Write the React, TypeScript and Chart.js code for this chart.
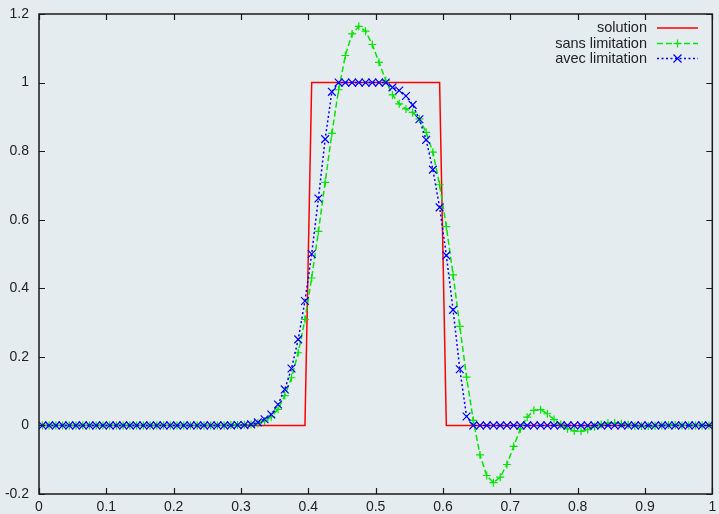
import React, { useEffect, useRef } from "react";
import { Chart, registerables } from "chart.js";

Chart.register(...registerables);

const xValues = [
  0.005, 0.015, 0.025, 0.035, 0.045, 0.055, 0.065, 0.075, 0.085, 0.095,
  0.105, 0.115, 0.125, 0.135, 0.145, 0.155, 0.165, 0.175, 0.185, 0.195,
  0.205, 0.215, 0.225, 0.235, 0.245, 0.255, 0.265, 0.275, 0.285, 0.295,
  0.305, 0.315, 0.325, 0.335, 0.345, 0.355, 0.365, 0.375, 0.385, 0.395,
  0.405, 0.415, 0.425, 0.435, 0.445, 0.455, 0.465, 0.475, 0.485, 0.495,
  0.505, 0.515, 0.525, 0.535, 0.545, 0.555, 0.565, 0.575, 0.585, 0.595,
  0.605, 0.615, 0.625, 0.635, 0.645, 0.655, 0.665, 0.675, 0.685, 0.695,
  0.705, 0.715, 0.725, 0.735, 0.745, 0.755, 0.765, 0.775, 0.785, 0.795,
  0.805, 0.815, 0.825, 0.835, 0.845, 0.855, 0.865, 0.875, 0.885, 0.895,
  0.905, 0.915, 0.925, 0.935, 0.945, 0.955, 0.965, 0.975, 0.985, 0.995,
];

const solution = [
  0, 0, 0, 0, 0, 0, 0, 0, 0, 0,
  0, 0, 0, 0, 0, 0, 0, 0, 0, 0,
  0, 0, 0, 0, 0, 0, 0, 0, 0, 0,
  0, 0, 0, 0, 0, 0, 0, 0, 0, 0,
  1, 1, 1, 1, 1, 1, 1, 1, 1, 1,
  1, 1, 1, 1, 1, 1, 1, 1, 1, 1,
  0, 0, 0, 0, 0, 0, 0, 0, 0, 0,
  0, 0, 0, 0, 0, 0, 0, 0, 0, 0,
  0, 0, 0, 0, 0, 0, 0, 0, 0, 0,
  0, 0, 0, 0, 0, 0, 0, 0, 0, 0,
];

const sansLimitation = [
  0, 0, 0, 0, 0, 0, 0, 0, 0, 0,
  0, 0, 0, 0, 0, 0, 0, 0, 0, 0,
  0, 0, 0, 0, 0, 0, 0, 0, 0.001, 0.001,
  0.002, 0.003, 0.006, 0.013, 0.025, 0.047, 0.087, 0.139, 0.212, 0.309,
  0.43, 0.566, 0.709, 0.852, 0.979, 1.079, 1.142, 1.164, 1.15, 1.111,
  1.059, 1.006, 0.964, 0.938, 0.923, 0.913, 0.894, 0.855, 0.797, 0.702,
  0.58, 0.439, 0.289, 0.141, 0.015, -0.086, -0.146, -0.167, -0.151, -0.114,
  -0.061, -0.01, 0.024, 0.044, 0.046, 0.034, 0.017, 0.003, -0.01, -0.016,
  -0.017, -0.012, -0.004, 0.003, 0.007, 0.007, 0.005, 0.002, -0.001, -0.002,
  -0.002, -0.001, 0, 0.001, 0.001, 0, 0, 0, 0, 0,
];

const avecLimitation = [
  0, 0, 0, 0, 0, 0, 0, 0, 0, 0,
  0, 0, 0, 0, 0, 0, 0, 0, 0, 0,
  0, 0, 0, 0, 0, 0, 0, 0, 0, 0.001,
  0.001, 0.003, 0.009, 0.018, 0.032, 0.061, 0.105, 0.166, 0.251, 0.363,
  0.5, 0.662, 0.835, 0.973, 1, 1, 1, 1, 1, 1,
  1, 1, 0.986, 0.977, 0.961, 0.935, 0.893, 0.833, 0.746, 0.636,
  0.496, 0.337, 0.164, 0.026, 0, 0, 0, 0, 0, 0,
  0, 0, 0, 0, 0, 0, 0, 0, 0, 0,
  0, 0, 0, 0, 0, 0, 0, 0, 0, 0,
  0, 0, 0, 0, 0, 0, 0, 0, 0, 0,
];

const legendLabels = ["solution", "sans limitation", "avec limitation"];

const BG = "#e5ecef";
const RED = "#ff0000";
const GREEN = "#00e600";
const BLUE = "#0000ff";
const FONT = "'Liberation Sans', Arial, Helvetica, sans-serif";

const toPoints = (ys: number[]) => ys.map((y, i) => ({ x: xValues[i], y }));

const fmt = (v: number) => {
  const r = Math.round(v * 10) / 10;
  return r === 0 ? "0" : String(r);
};

const bgPlugin = {
  id: "bgPlugin",
  beforeDraw(chart: any) {
    const ctx = chart.ctx;
    ctx.save();
    ctx.fillStyle = BG;
    ctx.fillRect(0, 0, chart.width, chart.height);
    ctx.restore();
  },
};

const framePlugin = {
  id: "framePlugin",
  afterDraw(chart: any) {
    const ctx = chart.ctx;
    const { left, right, top, bottom } = chart.chartArea;
    const xs = chart.scales.x;
    const ys = chart.scales.y;
    ctx.save();
    ctx.strokeStyle = "#1a1a1a";
    ctx.lineWidth = 1.5;
    ctx.strokeRect(left, top, right - left, bottom - top);
    ctx.lineWidth = 1.2;
    const L = 6;
    ctx.beginPath();
    xs.ticks.forEach((t: any) => {
      const px = Math.round(xs.getPixelForValue(t.value)) + 0.5;
      ctx.moveTo(px, bottom);
      ctx.lineTo(px, bottom - L);
      ctx.moveTo(px, top);
      ctx.lineTo(px, top + L);
    });
    ys.ticks.forEach((t: any) => {
      const py = Math.round(ys.getPixelForValue(t.value)) + 0.5;
      ctx.moveTo(left, py);
      ctx.lineTo(left + L, py);
      ctx.moveTo(right, py);
      ctx.lineTo(right - L, py);
    });
    ctx.stroke();

    // legend
    const textRight = 647;
    const sx0 = 657;
    const sx1 = 698;
    const rows = [28, 43.5, 58.5];
    ctx.font = `14.5px ${FONT}`;
    ctx.fillStyle = "#222";
    ctx.textAlign = "right";
    ctx.textBaseline = "middle";
    legendLabels.forEach((lab, i) => ctx.fillText(lab, textRight, rows[i]));

    ctx.lineWidth = 1.5;
    ctx.strokeStyle = RED;
    ctx.setLineDash([]);
    ctx.beginPath();
    ctx.moveTo(sx0, rows[0]);
    ctx.lineTo(sx1, rows[0]);
    ctx.stroke();

    ctx.strokeStyle = GREEN;
    ctx.setLineDash([6, 3]);
    ctx.beginPath();
    ctx.moveTo(sx0, rows[1]);
    ctx.lineTo(sx1, rows[1]);
    ctx.stroke();
    ctx.setLineDash([]);
    const mx = (sx0 + sx1) / 2;
    ctx.lineWidth = 1.2;
    ctx.beginPath();
    ctx.moveTo(mx - 4, rows[1]);
    ctx.lineTo(mx + 4, rows[1]);
    ctx.moveTo(mx, rows[1] - 4);
    ctx.lineTo(mx, rows[1] + 4);
    ctx.stroke();

    ctx.strokeStyle = BLUE;
    ctx.lineWidth = 1.5;
    ctx.setLineDash([2, 2.5]);
    ctx.beginPath();
    ctx.moveTo(sx0, rows[2]);
    ctx.lineTo(sx1, rows[2]);
    ctx.stroke();
    ctx.setLineDash([]);
    ctx.lineWidth = 1.2;
    ctx.beginPath();
    ctx.moveTo(mx - 4, rows[2] - 4);
    ctx.lineTo(mx + 4, rows[2] + 4);
    ctx.moveTo(mx - 4, rows[2] + 4);
    ctx.lineTo(mx + 4, rows[2] - 4);
    ctx.stroke();
    ctx.restore();
  },
};

export default function App() {
  const canvasRef = useRef<HTMLCanvasElement | null>(null);

  useEffect(() => {
    document.body.style.margin = "0";
    document.body.style.background = BG;
    const canvas = canvasRef.current;
    if (!canvas) return;
    const chart = new Chart(canvas, {
      type: "line",
      data: {
        datasets: [
          {
            label: legendLabels[0],
            data: toPoints(solution),
            borderColor: RED,
            borderWidth: 1.5,
            pointRadius: 0,
            tension: 0,
            order: 3,
          },
          {
            label: legendLabels[1],
            data: toPoints(sansLimitation),
            borderColor: GREEN,
            borderWidth: 1.5,
            borderDash: [6, 3],
            pointStyle: "cross",
            pointRadius: 4,
            pointBorderWidth: 1.2,
            pointBorderColor: GREEN,
            tension: 0,
            order: 2,
          },
          {
            label: legendLabels[2],
            data: toPoints(avecLimitation),
            borderColor: BLUE,
            borderWidth: 1.5,
            borderDash: [2, 2.5],
            pointStyle: "crossRot",
            pointRadius: 5.5,
            pointBorderWidth: 1.2,
            pointBorderColor: BLUE,
            tension: 0,
            order: 1,
          },
        ],
      },
      options: {
        animation: false,
        responsive: false,
        maintainAspectRatio: false,
        devicePixelRatio: 1,
        layout: { padding: { top: 14, right: 3, left: 0, bottom: 0 } },
        plugins: {
          legend: { display: false },
          tooltip: { enabled: false },
        },
        scales: {
          x: {
            type: "linear",
            min: 0,
            max: 1,
            grid: { display: false, drawTicks: false },
            border: { display: false },
            ticks: {
              stepSize: 0.1,
              padding: 5,
              color: "#222",
              font: { size: 14, family: FONT },
              maxRotation: 0,
              autoSkip: false,
              callback: (v: any) => fmt(Number(v)),
            },
            afterFit: (s: any) => {
              s.height = 20;
              s.paddingLeft = 0;
              s.paddingRight = 0;
              s.paddingTop = 0;
              s.paddingBottom = 0;
            },
          },
          y: {
            type: "linear",
            min: -0.2,
            max: 1.2,
            grid: { display: false, drawTicks: false },
            border: { display: false },
            ticks: {
              stepSize: 0.2,
              padding: 10,
              color: "#222",
              font: { size: 14, family: FONT },
              autoSkip: false,
              callback: (v: any) => fmt(Number(v)),
            },
            afterFit: (s: any) => {
              s.width = 39;
              s.paddingLeft = 0;
              s.paddingRight = 0;
              s.paddingTop = 0;
              s.paddingBottom = 0;
            },
          },
        },
      },
      plugins: [bgPlugin, framePlugin],
    });
    return () => chart.destroy();
  }, []);

  return (
    <div style={{ width: 719, height: 514, background: BG }}>
      <canvas ref={canvasRef} width={719} height={514} style={{ display: "block" }} />
    </div>
  );
}
